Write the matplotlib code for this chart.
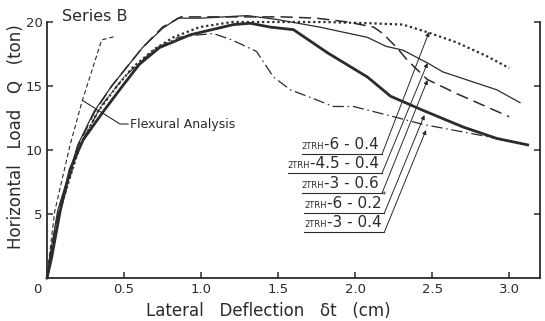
import matplotlib
matplotlib.use("Agg")
import matplotlib.pyplot as plt

# ---- data ----
flex_x = [0, 0.013, 0.05, 0.15, 0.23, 0.355, 0.45]
flex_y = [0, 1.5, 5.2, 10.4, 13.9, 18.6, 18.9]

s60_4_x = [0, 0.02, 0.075, 0.21, 0.33, 0.455, 0.56, 0.70, 0.82, 0.99, 1.20, 1.45, 1.80, 2.10, 2.31, 2.47, 2.66, 2.86, 3.00]
s60_4_y = [0, 1.2, 5.0, 10.2, 13.0, 15.0, 16.5, 17.9, 18.8, 19.6, 20.0, 20.0, 20.0, 19.9, 19.8, 19.2, 18.4, 17.3, 16.4]

s45_4_x = [0, 0.02, 0.07, 0.20, 0.305, 0.42, 0.62, 0.75, 0.85, 1.00, 1.30, 1.49, 1.77, 2.08, 2.20, 2.31, 2.47, 2.57, 2.92, 3.07]
s45_4_y = [0, 1.8, 5.3, 10.4, 13.0, 15.0, 18.0, 19.5, 20.3, 20.3, 20.5, 20.2, 19.6, 18.8, 18.1, 17.8, 16.8, 16.1, 14.7, 13.7]

s30_6_x = [0, 0.02, 0.075, 0.20, 0.31, 0.42, 0.62, 0.75, 0.87, 1.30, 1.53, 1.75, 1.95, 2.12, 2.18, 2.27, 2.34, 2.47, 2.66, 3.00]
s30_6_y = [0, 1.5, 5.2, 10.3, 13.0, 15.0, 18.0, 19.6, 20.4, 20.4, 20.4, 20.3, 20.0, 19.6, 19.1, 18.0, 17.0, 15.5, 14.4, 12.6]

s60_2_x = [0, 0.03, 0.085, 0.15, 0.235, 0.365, 0.49, 0.60, 0.73, 0.93, 1.21, 1.32, 1.45, 1.60, 1.82, 2.08, 2.23, 2.44, 2.70, 2.92, 3.12]
s60_2_y = [0, 1.6, 5.2, 8.5, 10.8, 13.0, 15.0, 16.7, 18.0, 19.0, 19.8, 19.9, 19.6, 19.4, 17.6, 15.7, 14.2, 13.1, 11.8, 10.9, 10.4]

s30_4_x = [0, 0.02, 0.08, 0.21, 0.35, 0.50, 0.70, 0.85, 0.99, 1.08, 1.20, 1.36, 1.47, 1.58, 1.71, 1.86, 1.99, 2.25, 2.44, 2.75, 2.96, 3.09]
s30_4_y = [0, 1.3, 5.1, 10.3, 13.4, 15.7, 17.9, 18.8, 19.0, 19.1, 18.6, 17.7, 15.7, 14.7, 14.1, 13.4, 13.4, 12.6, 12.0, 11.3, 10.8, 10.5]

label_names = ["2TRH", "2TRH", "2TRH", "2TRH", "2TRH"]
label_parts = ["-6 - 0.4", "-4.5 - 0.4", "-3 - 0.6", "-6 - 0.2", "-3 - 0.4"]
label_sup = ["", "", "", "*", ""]
# label anchor (right end of underline) and arrow tips, in data units
label_xy = [(2.175, 9.69), (2.175, 8.20), (2.175, 6.64), (2.19, 5.08), (2.19, 3.59)]
arrow_xy = [(2.48, 19.22), (2.47, 16.8), (2.47, 15.47), (2.45, 12.73), (2.46, 11.56)]

xticks = [0.5, 1.0, 1.5, 2.0, 2.5, 3.0]
xticklabels = ["0.5", "1.0", "1.5", "2.0", "2.5", "3.0"]
yticks = [5, 10, 15, 20]
yticklabels = ["5", "10", "15", "20"]

ink = "#2b2b2b"
plt.rcParams['font.family'] = ['DejaVu Sans']

fig = plt.figure(figsize=(5.45, 3.21), dpi=100)
ax = fig.add_axes([47/545, 43/321, 493/545, 268.8/321])
ax.set_xlim(0, 3.2)
ax.set_ylim(0, 21)

ax.plot(flex_x, flex_y, color=ink, lw=0.8, ls=(0, (4, 2.5)), clip_on=False)
ax.plot(s60_4_x, s60_4_y, color=ink, lw=1.6, ls=(0, (1.0, 1.3)), clip_on=False)
ax.plot(s45_4_x, s45_4_y, color=ink, lw=0.9, ls='-', clip_on=False)
ax.plot(s30_6_x, s30_6_y, color=ink, lw=1.1, ls=(0, (8, 4)), clip_on=False)
ax.plot(s60_2_x, s60_2_y, color=ink, lw=2.0, ls='-', clip_on=False)
ax.plot(s30_4_x, s30_4_y, color=ink, lw=0.9, ls=(0, (9, 3, 1.2, 3)), clip_on=False)

# spines
ax.spines['top'].set_visible(False)
for s in ['left', 'right', 'bottom']:
    ax.spines[s].set_linewidth(1.3)
    ax.spines[s].set_color(ink)
ax.spines['left'].set_bounds(0, 20)
ax.spines['right'].set_bounds(0, 20)

ax.set_xticks(xticks)
ax.set_xticklabels(xticklabels)
ax.set_yticks(yticks)
ax.set_yticklabels(yticklabels)
ax.tick_params(direction='in', length=4, width=1.1, color=ink, labelcolor=ink,
               labelsize=9.5, right=True)
ax.tick_params(axis='x', pad=3.5)
ax.tick_params(axis='y', pad=3)
ax.text(-0.06, -0.4, "0", ha='center', va='top', fontsize=9.5, color=ink)

# axis labels
fig.text(16/545, 1 - 137/321, "Horizontal   Load   Q   (ton)", rotation=90,
         ha='center', va='center', fontsize=12, color=ink)
fig.text(268/545, 1 - 311/321, "Lateral   Deflection   \u03b4t   (cm)",
         ha='center', va='center', fontsize=12, color=ink)

ax.text(0.10, 20.4, "Series B", fontsize=11.5, color=ink, ha='left', va='center')

# Flexural analysis annotation
ax.plot([0.236, 0.474, 0.526], [13.83, 12.03, 12.03], color=ink, lw=0.8)
ax.text(0.54, 12.03, "Flexural Analysis", fontsize=9, color=ink, ha='left', va='center')

# specimen labels with leaders
fig.canvas.draw()
renderer = fig.canvas.get_renderer()
inv = ax.transData.inverted()
for name, part, sup, (lx, ly), (tx, ty) in zip(label_names, label_parts, label_sup, label_xy, arrow_xy):
    big = ax.text(lx - 0.02, ly + 0.15, part, fontsize=11, color=ink, ha='right', va='bottom')
    if sup:
        ax.text(lx - 0.02, ly + 1.0, sup, fontsize=6, color=ink, ha='left', va='bottom')
    bb = big.get_window_extent(renderer)
    x_left = inv.transform((bb.x0, bb.y0))[0]
    small = ax.text(x_left, ly + 0.25, name, fontsize=6, color=ink, ha='right', va='bottom')
    sb = small.get_window_extent(renderer)
    x0 = inv.transform((sb.x0, sb.y0))[0]
    ax.plot([x0, lx], [ly, ly], color=ink, lw=0.8)
    ax.annotate("", xy=(tx, ty), xytext=(lx, ly),
                arrowprops=dict(arrowstyle='-|>', color=ink, lw=0.7,
                                mutation_scale=6, shrinkA=0, shrinkB=0))

fig.savefig("out.png", dpi=100, facecolor='white')
